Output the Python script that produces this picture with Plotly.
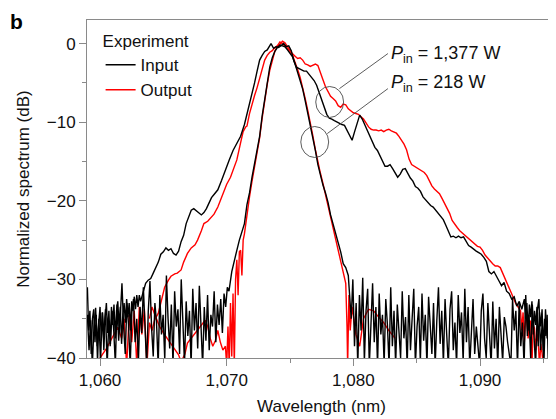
import numpy as np
import plotly.graph_objects as go

# ---------------- data ----------------
# Input spectrum, P_in = 1,377 W (black, broad)
in_hi_noise_left_start, in_hi_noise_left_step = 1059.0, 0.1
in_hi_noise_left = [-31.0, -36.5, -34.0, -39.5, -35.0, -33.8, -38.0, -34.5, -40.5, -35.5,
                    -33.5, -37.8, -34.2, -39.0, -35.0, -33.0, -36.8, -34.0, -38.5, -33.5,
                    -35.8, -33.2, -37.5, -34.0, -32.8, -36.0, -33.5, -38.2, -34.5, -33.0,
                    -35.5, -32.5, -34.8, -33.0, -36.5, -32.8, -34.0, -32.2, -33.8, -32.0,
                    -33.5, -32.0, -32.8]
in_hi_wl = [1063.4, 1063.6, 1063.8, 1064.0, 1064.2, 1064.4, 1064.6, 1064.8, 1065.0, 1065.2,
            1065.4, 1065.6, 1065.8, 1066.0, 1066.2, 1066.4, 1066.6, 1066.8, 1067.0, 1067.2,
            1067.4, 1067.6, 1067.8, 1068.0, 1068.2, 1068.4, 1068.6, 1068.8, 1069.0, 1069.3,
            1069.6, 1069.9, 1070.2, 1070.5, 1070.8, 1071.1, 1071.4, 1071.6, 1071.8, 1072.0,
            1072.2, 1072.4, 1072.6, 1072.8, 1073.0, 1073.2, 1073.4, 1073.5, 1073.7, 1073.9,
            1074.1, 1074.3, 1074.5, 1074.7, 1074.9, 1075.1, 1075.3, 1075.5, 1075.7, 1075.9,
            1076.1, 1076.3, 1076.5, 1076.7, 1076.9, 1077.1, 1077.3, 1077.5, 1077.7, 1077.9,
            1078.1, 1078.3, 1078.5, 1078.7, 1078.9, 1079.1, 1079.3, 1079.5, 1079.7, 1079.9,
            1080.1, 1080.3, 1080.5, 1080.7, 1080.9, 1081.1, 1081.3, 1081.5, 1081.7, 1081.9,
            1082.1, 1082.3, 1082.5, 1082.7, 1082.9, 1083.1, 1083.3, 1083.5, 1083.7, 1083.9,
            1084.1, 1084.3, 1084.5, 1084.7, 1084.9, 1085.1, 1085.3, 1085.5, 1085.7, 1085.9,
            1086.1, 1086.3, 1086.5, 1086.7, 1086.9, 1087.1, 1087.3, 1087.5, 1087.7, 1087.9,
            1088.1, 1088.3, 1088.5, 1088.7, 1088.9, 1089.1, 1089.3, 1089.5, 1089.7, 1089.9,
            1090.1, 1090.3, 1090.5, 1090.7, 1090.9, 1091.1, 1091.3, 1091.5, 1091.7, 1091.9,
            1092.1, 1092.3, 1092.5, 1092.7, 1092.9, 1093.1, 1093.3]
in_hi_db = [-31.8, -30.5, -30.1, -29.9, -29.2, -28.6, -27.8, -26.8, -26.5, -26.0,
            -26.3, -26.1, -26.7, -26.9, -26.4, -25.2, -24.4, -22.9, -22.1, -21.2,
            -21.0, -21.3, -21.5, -21.8, -21.5, -21.0, -20.3, -19.6, -19.2, -18.6,
            -17.4, -16.0, -14.8, -13.6, -12.6, -11.8, -10.3, -9.0, -7.9, -6.5,
            -5.0, -3.5, -2.1, -1.5, -1.0, -0.8, -0.2, 0.0, -0.6, -0.4,
            -0.5, -0.3, 0.0, -0.4, -0.3, -0.9, -2.2, -3.0, -3.2, -3.3,
            -3.5, -3.5, -3.9, -4.3, -4.7, -5.3, -6.3, -7.2, -8.2, -9.0,
            -9.5, -9.6, -9.8, -10.0, -10.1, -10.3, -10.4, -11.0, -11.8, -12.3,
            -11.2, -10.0, -9.1, -9.6, -10.3, -10.9, -11.8, -12.5, -13.2, -13.6,
            -14.2, -15.0, -15.6, -15.6, -15.4, -15.9, -16.4, -17.0, -16.6, -16.0,
            -15.9, -16.5, -17.1, -17.5, -18.2, -18.4, -18.8, -19.5, -19.9, -20.2,
            -20.6, -20.8, -21.2, -21.5, -22.0, -22.4, -23.1, -23.9, -24.6, -24.5,
            -24.7, -24.5, -24.7, -24.6, -25.2, -25.7, -25.9, -26.2, -26.4, -26.6,
            -26.8, -27.2, -27.7, -29.0, -29.3, -29.0, -29.7, -30.2, -30.8, -30.4,
            -31.5, -31.8, -32.5, -32.2, -33.4, -32.8, -33.8]
in_hi_noise_right_start, in_hi_noise_right_step = 1093.5, 0.1
in_hi_noise_right = [-32.5, -35.0, -33.0, -36.5, -33.2, -34.8, -32.8, -37.0, -34.0, -35.8,
                     -33.5, -38.5, -34.2, -36.0, -33.8, -39.0, -35.0, -37.2, -34.5, -41.0,
                     -35.5, -33.8, -38.0, -34.6, -36.5, -34.0]

# Output spectrum, P_in = 1,377 W (red, broad)
out_hi_wl = [1060.0, 1060.5, 1061.0, 1061.4, 1061.7, 1061.9, 1062.1, 1062.3, 1062.5, 1062.7,
             1062.9, 1063.1, 1063.3, 1063.5, 1063.7, 1063.9, 1064.1, 1064.3, 1064.6, 1064.9,
             1065.1, 1065.4, 1065.6, 1065.9, 1066.1, 1066.4, 1066.6, 1066.9, 1067.2, 1067.5,
             1067.7, 1068.0, 1068.2, 1068.5, 1068.8, 1069.0, 1069.3, 1069.5, 1069.8, 1070.0,
             1070.3, 1070.6, 1070.8, 1071.1, 1071.3, 1071.5, 1071.6, 1071.8, 1072.0, 1072.2,
             1072.4, 1072.6, 1072.8, 1073.0, 1073.2, 1073.4, 1073.6, 1073.8, 1074.0, 1074.2,
             1074.4, 1074.6, 1074.8, 1075.0, 1075.2, 1075.4, 1075.6, 1075.8, 1076.0, 1076.2,
             1076.4, 1076.6, 1076.8, 1077.0, 1077.2, 1077.4, 1077.6, 1077.8, 1078.0, 1078.2,
             1078.4, 1078.6, 1078.8, 1079.0, 1079.2, 1079.4, 1079.6, 1079.8, 1080.0, 1080.2,
             1080.4, 1080.6, 1080.8, 1081.0, 1081.2, 1081.4, 1081.6, 1081.8, 1082.0, 1082.2,
             1082.4, 1082.6, 1082.8, 1083.0, 1083.2, 1083.4, 1083.6, 1083.8, 1084.0, 1084.2,
             1084.4, 1084.6, 1084.8, 1085.0, 1085.2, 1085.4, 1085.6, 1085.8, 1086.0, 1086.2,
             1086.4, 1086.6, 1086.8, 1087.0, 1087.2, 1087.4, 1087.6, 1087.8, 1088.0, 1088.2,
             1088.4, 1088.6, 1088.8, 1089.0, 1089.2, 1089.4, 1089.6, 1089.8, 1090.0, 1090.2,
             1090.4, 1090.6, 1090.8, 1091.0, 1091.2, 1091.4, 1091.6, 1091.8, 1092.0, 1092.2,
             1092.4, 1092.6, 1092.8, 1093.0, 1093.2, 1093.3, 1093.4, 1093.5, 1093.6, 1093.7,
             1093.8, 1093.9, 1094.0, 1094.1, 1094.2, 1094.3, 1094.4, 1094.5, 1094.6, 1094.7,
             1094.8, 1094.9, 1095.0, 1095.2]
out_hi_db = [-40.0, -38.8, -37.3, -36.1, -37.5, -35.0, -41.0, -34.5, -38.0, -34.0,
             -41.0, -33.5, -37.0, -33.8, -41.0, -35.5, -36.5, -35.2, -34.3, -32.2,
             -31.0, -30.1, -29.6, -29.3, -29.2, -28.8, -27.8, -26.7, -26.0, -25.6,
             -25.0, -23.8, -22.9, -22.6, -22.1, -21.7, -20.8, -19.9, -18.6, -17.9,
             -17.0, -15.6, -14.8, -12.6, -11.2, -10.6, -10.5, -8.9, -7.6, -6.6,
             -5.6, -4.5, -3.2, -2.1, -1.5, -1.1, -0.9, -0.5, -0.3, -0.1,
             0.3, 0.1, -0.4, -0.9, -1.3, -1.6, -1.9, -1.8, -2.1, -2.6,
             -2.7, -2.9, -2.8, -2.6, -2.8, -3.6, -4.6, -5.5, -6.2, -6.7,
             -7.0, -7.3, -7.9, -8.1, -7.7, -7.8, -8.3, -8.6, -8.8, -8.9,
             -9.0, -9.3, -9.6, -10.1, -10.6, -10.9, -11.0, -11.0, -11.1, -11.0,
             -11.2, -11.0, -10.9, -11.1, -11.3, -11.4, -11.8, -12.3, -12.8, -13.5,
             -14.7, -15.4, -15.6, -15.8, -16.0, -16.2, -16.4, -16.8, -17.5, -18.1,
             -18.5, -18.8, -19.1, -19.7, -20.3, -20.8, -21.6, -22.5, -23.0, -23.4,
             -23.8, -24.1, -24.3, -24.6, -25.0, -25.3, -25.5, -25.8, -25.9, -26.3,
             -26.9, -27.3, -27.7, -28.0, -28.3, -28.3, -28.5, -29.2, -29.9, -30.6,
             -31.5, -32.2, -33.0, -33.6, -34.0, -36.5, -34.2, -38.0, -34.6, -35.0,
             -37.5, -35.2, -35.4, -41.0, -35.8, -36.2, -39.0, -36.9, -38.0, -41.0,
             -38.2, -39.4, -41.0, -41.0]

# Input spectrum, P_in = 218 W (black, narrow)
in_lo_noise_left_start, in_lo_noise_left_step = 1059.0, 0.13
in_lo_noise_left = [-34.5, -39.0, -35.2, -41.0, -36.0, -33.6, -38.5, -35.0, -40.5, -34.2,
                    -37.0, -33.8, -41.0, -35.5, -38.2, -34.0, -36.5, -40.8, -33.2, -37.8,
                    -34.6, -30.5, -36.0, -39.5, -33.0, -35.8, -41.0, -34.2, -32.5, -38.0,
                    -35.0, -40.5, -33.5, -36.8, -31.0, -37.5, -41.0, -34.0, -30.2, -36.2,
                    -39.8, -33.0, -35.5, -41.0, -32.0, -37.0, -34.5, -40.2, -29.5, -35.0,
                    -38.8, -33.2, -41.0, -31.5, -36.0, -33.8, -39.5, -30.0, -35.2, -40.8,
                    -32.8, -37.2, -34.0, -41.0, -31.2, -36.5, -33.0, -38.8, -30.8, -35.5,
                    -41.0, -33.5, -37.8, -32.0, -39.0, -34.5, -36.0, -31.5, -38.0, -33.2,
                    -35.8, -32.5, -36.8, -31.8, -33.5, -31.0, -31.5]
in_lo_wl = [1070.4, 1070.6, 1070.8, 1071.0, 1071.2, 1071.4, 1071.6, 1071.8, 1072.0, 1072.2,
            1072.4, 1072.6, 1072.8, 1073.0, 1073.2, 1073.4, 1073.6, 1073.8, 1074.0, 1074.2,
            1074.4, 1074.6, 1074.8, 1075.0, 1075.2, 1075.4, 1075.6, 1075.8, 1076.0, 1076.2,
            1076.4, 1076.6, 1076.8, 1077.0, 1077.2, 1077.4, 1077.6, 1077.8, 1078.0, 1078.2,
            1078.4, 1078.6, 1078.8, 1079.0, 1079.2, 1079.4, 1079.6]
in_lo_db = [-29.0, -27.5, -26.3, -25.0, -23.8, -22.9, -20.5, -19.0, -17.0, -15.2,
            -13.8, -11.8, -9.2, -7.0, -4.8, -3.0, -1.8, -1.0, -0.5, -0.2,
            -0.3, -0.4, -0.8, -1.2, -1.7, -2.6, -3.6, -4.6, -5.8, -7.3,
            -8.8, -10.3, -11.9, -13.6, -15.4, -16.8, -18.0, -19.0, -20.2, -21.8,
            -23.0, -24.0, -25.3, -26.5, -28.0, -28.5, -29.5]
in_lo_noise_right_start, in_lo_noise_right_step = 1079.7, 0.13
in_lo_noise_right = [-31.5, -35.0, -30.0, -38.5, -33.0, -41.0, -32.0, -36.5, -29.8, -40.5,
                     -34.0, -31.2, -41.0, -35.5, -30.5, -38.0, -33.5, -41.0, -31.8, -37.0,
                     -34.5, -40.8, -32.5, -35.8, -41.0, -31.0, -38.5, -34.0, -41.0, -33.2,
                     -36.5, -40.0, -31.5, -37.5, -34.8, -41.0, -32.0, -39.0, -35.0, -31.2,
                     -41.0, -36.0, -33.5, -40.5, -31.8, -37.8, -34.5, -41.0, -32.2, -36.0,
                     -39.5, -33.0, -41.0, -35.2, -31.0, -38.2, -34.0, -40.8, -32.5, -37.0,
                     -41.0, -33.8, -31.5, -39.0, -35.5, -41.0, -32.0, -36.8, -34.2, -40.5,
                     -31.2, -38.0, -33.5, -41.0, -35.8, -32.5, -39.5, -36.0, -38.5, -41.0,
                     -34.0, -31.8, -37.5, -40.0, -33.0, -36.2, -41.0, -32.8, -38.8, -35.0,
                     -41.0, -33.5, -37.0, -40.5, -34.8, -36.0, -38.0, -39.5, -41.0, -32.5,
                     -36.5, -34.0, -41.0, -33.0, -38.5, -35.5, -41.0, -32.0, -37.2, -34.5,
                     -40.0, -33.2, -36.8, -41.0, -34.0, -32.5, -39.0, -35.5, -41.0, -33.8,
                     -37.5, -34.5, -40.2, -33.0, -36.0, -34.8]

# Output spectrum, P_in = 218 W (red, narrow)
out_lo_wl = [1063.9, 1064.1, 1064.4, 1064.7, 1065.0, 1065.3, 1065.6, 1065.9, 1066.2, 1066.4,
             1066.7, 1066.9, 1067.2, 1067.5, 1067.8, 1068.1, 1068.3, 1068.5, 1068.7, 1068.9,
             1069.1, 1069.3, 1069.5, 1069.7, 1069.9, 1070.0, 1070.1, 1070.2, 1070.3, 1070.4,
             1070.5, 1070.6, 1070.7, 1070.8, 1070.9, 1071.0, 1071.1, 1071.2, 1071.3, 1071.4,
             1071.6, 1071.8, 1072.0, 1072.2, 1072.4, 1072.6, 1072.8, 1073.0, 1073.2, 1073.4,
             1073.6, 1073.8, 1074.0, 1074.2, 1074.4, 1074.6, 1074.8, 1075.0, 1075.2, 1075.4,
             1075.6, 1075.8, 1076.0, 1076.2, 1076.4, 1076.6, 1076.8, 1077.0, 1077.2, 1077.4,
             1077.6, 1077.8, 1078.0, 1078.2, 1078.4, 1078.6, 1078.8, 1079.0, 1079.2, 1079.4,
             1079.5, 1079.55, 1079.65, 1079.75, 1079.9, 1080.2, 1080.5, 1080.8, 1081.2, 1081.6,
             1082.0, 1082.4, 1082.8, 1083.3]
out_lo_db = [-35.0, -33.5, -34.8, -36.0, -36.8, -37.5, -38.2, -39.0, -39.6, -40.5,
             -39.5, -38.1, -37.5, -36.8, -36.2, -35.6, -35.2, -36.0, -37.5, -38.5,
             -37.8, -36.5, -38.0, -39.0, -38.5, -41.0, -36.0, -41.0, -33.0, -39.8,
             -31.8, -41.0, -30.0, -27.5, -32.0, -26.5, -26.3, -29.5, -25.0, -24.2,
             -21.5, -19.5, -17.5, -15.6, -14.0, -12.0, -9.5, -7.2, -5.2, -3.4,
             -2.0, -1.0, -0.3, 0.2, 0.0, -0.3, -0.7, -1.0, -1.5, -2.3,
             -3.3, -4.3, -5.5, -7.0, -8.5, -10.0, -11.7, -13.5, -15.2, -16.5,
             -17.8, -19.2, -20.5, -22.0, -23.5, -24.5, -26.0, -27.6, -29.0, -30.5,
             -36.0, -41.0, -32.0, -36.5, -33.5, -37.0, -38.5, -35.0, -33.8, -34.0,
             -34.8, -35.5, -36.5, -37.5]

x_ticks = [1060, 1070, 1080, 1090]
y_ticks = [0, -10, -20, -30, -40]
x_range = [1058.97, 1096.0]
y_range = [-40, 3]

# ---------------- assemble series ----------------
def grid(start, step, vals):
    return [round(start + i * step, 3) for i in range(len(vals))]

in_hi_x = grid(in_hi_noise_left_start, in_hi_noise_left_step, in_hi_noise_left) + in_hi_wl + \
    grid(in_hi_noise_right_start, in_hi_noise_right_step, in_hi_noise_right)
in_hi_y = in_hi_noise_left + in_hi_db + in_hi_noise_right
in_lo_x = grid(in_lo_noise_left_start, in_lo_noise_left_step, in_lo_noise_left) + in_lo_wl + \
    grid(in_lo_noise_right_start, in_lo_noise_right_step, in_lo_noise_right)
in_lo_y = in_lo_noise_left + in_lo_db + in_lo_noise_right

BLACK = "#000000"
RED = "#ff0000"
AXIS = "#8a8a8a"
FONT = "Liberation Sans, Arial, Helvetica, sans-serif"

fig = go.Figure()
fig.add_trace(go.Scatter(x=out_hi_wl, y=out_hi_db, mode="lines", line=dict(color=RED, width=1.4),
                         showlegend=False))
fig.add_trace(go.Scatter(x=out_lo_wl, y=out_lo_db, mode="lines", line=dict(color=RED, width=1.4),
                         name="Output", legendrank=2))
fig.add_trace(go.Scatter(x=in_hi_x, y=in_hi_y, mode="lines", line=dict(color=BLACK, width=1.4),
                         showlegend=False))
fig.add_trace(go.Scatter(x=in_lo_x, y=in_lo_y, mode="lines", line=dict(color=BLACK, width=1.4),
                         name="Input", legendrank=1))

# circles and leader lines for the annotations
ann_col = "#4a4a4a"
fig.add_shape(type="circle", xref="x", yref="y", x0=1077.03, x1=1079.23, y0=-9.4, y1=-5.46,
              line=dict(color=ann_col, width=0.9))
fig.add_shape(type="circle", xref="x", yref="y", x0=1075.85, x1=1078.05, y0=-14.49, y1=-10.55,
              line=dict(color=ann_col, width=0.9))
fig.add_shape(type="line", xref="x", yref="y", x0=1078.9, y0=-5.73, x1=1082.73, y1=-1.27,
              line=dict(color=ann_col, width=0.9))
fig.add_shape(type="line", xref="x", yref="y", x0=1077.94, y0=-11.45, x1=1082.73, y1=-5.73,
              line=dict(color=ann_col, width=0.9))

fig.add_annotation(x=1082.85, y=-1.35, xref="x", yref="y", xanchor="left", yanchor="middle",
                   text="<i>P</i><sub>in</sub> = 1,377 W", showarrow=False,
                   font=dict(size=18, color="#111"))
fig.add_annotation(x=1082.85, y=-5.1, xref="x", yref="y", xanchor="left", yanchor="middle",
                   text="<i>P</i><sub>in</sub> = 218 W", showarrow=False,
                   font=dict(size=18, color="#111"))
fig.add_annotation(x=-0.168, y=1.036, xref="paper", yref="paper", xanchor="left", yanchor="top",
                   text="<b>b</b>", showarrow=False, font=dict(size=21, color="#000"))

# the page body has an 8 px default margin: the figure is sized so that the
# plot area lands where it sits in the 556 x 419 reference window
fig.update_layout(
    width=548, height=411,
    margin=dict(l=79, r=0, t=12, b=61),
    paper_bgcolor="white", plot_bgcolor="white",
    font=dict(family=FONT, size=17, color="#111"),
    legend=dict(x=0.029, y=0.985, xanchor="left", yanchor="top", bgcolor="rgba(0,0,0,0)",
                title=dict(text="Experiment", font=dict(size=17)),
                font=dict(size=17), tracegroupgap=0, itemwidth=30),
    xaxis=dict(range=x_range, tickvals=x_ticks, tickformat=",d", ticks="outside", ticklen=7,
               tickcolor=AXIS, showline=True, linecolor=AXIS, linewidth=1, mirror=True,
               showgrid=False, zeroline=False,
               minor=dict(dtick=5, tick0=1060, ticks="outside", ticklen=4, tickcolor=AXIS),
               title=dict(text="Wavelength (nm)", standoff=10, font=dict(size=17))),
    yaxis=dict(range=y_range, tickvals=y_ticks, ticks="outside", ticklen=7, tickcolor=AXIS,
               showline=True, linecolor=AXIS, linewidth=1, showgrid=False, zeroline=False,
               minor=dict(dtick=5, tick0=0, ticks="outside", ticklen=4, tickcolor=AXIS),
               title=dict(text="Normalized spectrum (dB)", standoff=12, font=dict(size=17))),
)

fig.write_html("out.html")
